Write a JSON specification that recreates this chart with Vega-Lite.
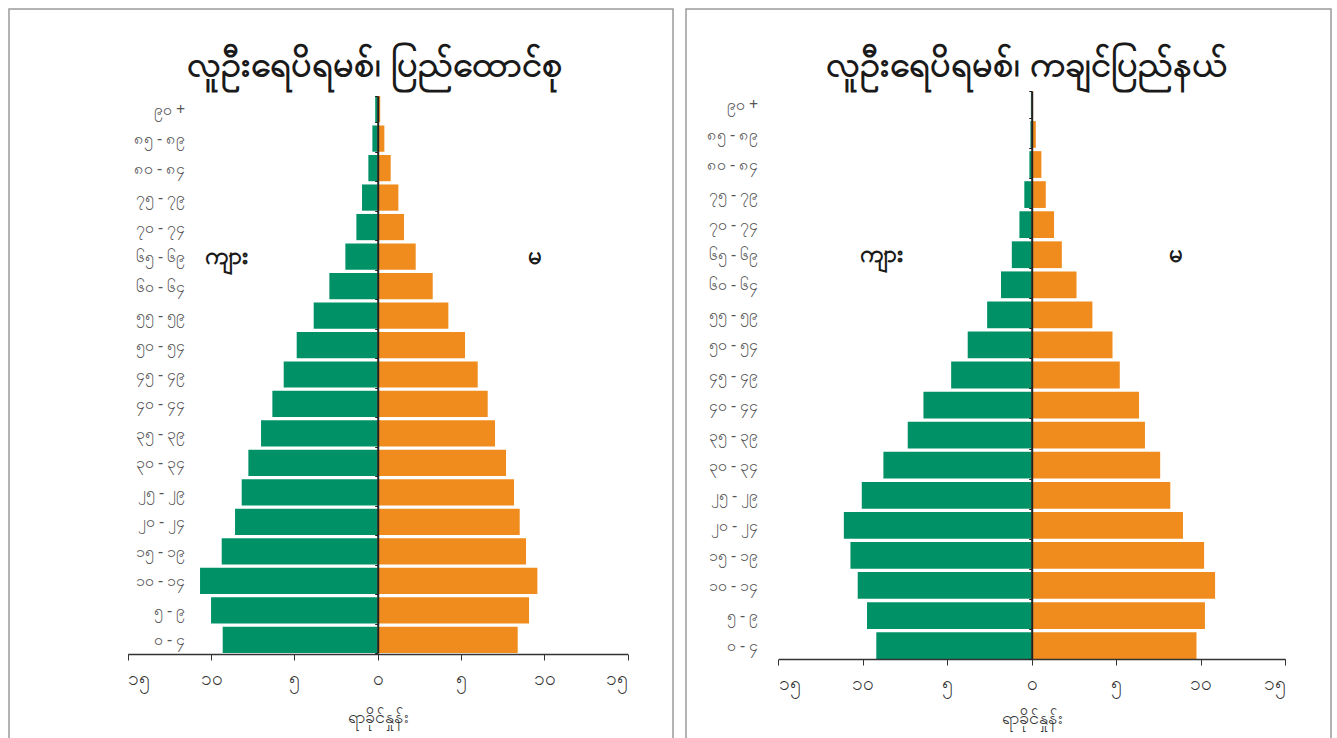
{
  "$schema": "https://vega.github.io/schema/vega-lite/v6.json",
  "padding": {"left": 8, "top": 0, "right": 0, "bottom": 0},
  "background": "white",
  "spacing": 13,
  "bounds": "flush",
  "config": {
    "view": {"stroke": "#9a9a9a", "strokeWidth": 1.5},
    "font": "Noto Sans",
    "axis": {"grid": false}
  },
  "datasets": {
    "union": [
      {"age": "၉၀ +", "sex": "ကျား", "pct": -0.15}, {"age": "၉၀ +", "sex": "မ", "pct": 0.15},
      {"age": "၈၅ - ၈၉", "sex": "ကျား", "pct": -0.32}, {"age": "၈၅ - ၈၉", "sex": "မ", "pct": 0.4},
      {"age": "၈၀ - ၈၄", "sex": "ကျား", "pct": -0.56}, {"age": "၈၀ - ၈၄", "sex": "မ", "pct": 0.78},
      {"age": "၇၅ - ၇၉", "sex": "ကျား", "pct": -0.94}, {"age": "၇၅ - ၇၉", "sex": "မ", "pct": 1.24},
      {"age": "၇၀ - ၇၄", "sex": "ကျား", "pct": -1.28}, {"age": "၇၀ - ၇၄", "sex": "မ", "pct": 1.58},
      {"age": "၆၅ - ၆၉", "sex": "ကျား", "pct": -1.94}, {"age": "၆၅ - ၆၉", "sex": "မ", "pct": 2.28},
      {"age": "၆၀ - ၆၄", "sex": "ကျား", "pct": -2.9}, {"age": "၆၀ - ၆၄", "sex": "မ", "pct": 3.3},
      {"age": "၅၅ - ၅၉", "sex": "ကျား", "pct": -3.84}, {"age": "၅၅ - ၅၉", "sex": "မ", "pct": 4.24},
      {"age": "၅၀ - ၅၄", "sex": "ကျား", "pct": -4.86}, {"age": "၅၀ - ၅၄", "sex": "မ", "pct": 5.24},
      {"age": "၄၅ - ၄၉", "sex": "ကျား", "pct": -5.64}, {"age": "၄၅ - ၄၉", "sex": "မ", "pct": 6.0},
      {"age": "၄၀ - ၄၄", "sex": "ကျား", "pct": -6.32}, {"age": "၄၀ - ၄၄", "sex": "မ", "pct": 6.6},
      {"age": "၃၅ - ၃၉", "sex": "ကျား", "pct": -7.0}, {"age": "၃၅ - ၃၉", "sex": "မ", "pct": 7.04},
      {"age": "၃၀ - ၃၄", "sex": "ကျား", "pct": -7.76}, {"age": "၃၀ - ၃၄", "sex": "မ", "pct": 7.7},
      {"age": "၂၅ - ၂၉", "sex": "ကျား", "pct": -8.16}, {"age": "၂၅ - ၂၉", "sex": "မ", "pct": 8.18},
      {"age": "၂၀ - ၂၄", "sex": "ကျား", "pct": -8.56}, {"age": "၂၀ - ၂၄", "sex": "မ", "pct": 8.52},
      {"age": "၁၅ - ၁၉", "sex": "ကျား", "pct": -9.36}, {"age": "၁၅ - ၁၉", "sex": "မ", "pct": 8.9},
      {"age": "၁၀ - ၁၄", "sex": "ကျား", "pct": -10.66}, {"age": "၁၀ - ၁၄", "sex": "မ", "pct": 9.58},
      {"age": "၅ - ၉", "sex": "ကျား", "pct": -10.0}, {"age": "၅ - ၉", "sex": "မ", "pct": 9.08},
      {"age": "၀ - ၄", "sex": "ကျား", "pct": -9.3}, {"age": "၀ - ၄", "sex": "မ", "pct": 8.4}
    ],
    "kachin": [
      {"age": "၉၀ +", "sex": "ကျား", "pct": -0.05}, {"age": "၉၀ +", "sex": "မ", "pct": 0.08},
      {"age": "၈၅ - ၈၉", "sex": "ကျား", "pct": -0.08}, {"age": "၈၅ - ၈၉", "sex": "မ", "pct": 0.24},
      {"age": "၈၀ - ၈၄", "sex": "ကျား", "pct": -0.14}, {"age": "၈၀ - ၈၄", "sex": "မ", "pct": 0.57},
      {"age": "၇၅ - ၇၉", "sex": "ကျား", "pct": -0.44}, {"age": "၇၅ - ၇၉", "sex": "မ", "pct": 0.83},
      {"age": "၇၀ - ၇၄", "sex": "ကျား", "pct": -0.73}, {"age": "၇၀ - ၇၄", "sex": "မ", "pct": 1.32},
      {"age": "၆၅ - ၆၉", "sex": "ကျား", "pct": -1.18}, {"age": "၆၅ - ၆၉", "sex": "မ", "pct": 1.78},
      {"age": "၆၀ - ၆၄", "sex": "ကျား", "pct": -1.82}, {"age": "၆၀ - ၆၄", "sex": "မ", "pct": 2.65},
      {"age": "၅၅ - ၅၉", "sex": "ကျား", "pct": -2.64}, {"age": "၅၅ - ၅၉", "sex": "မ", "pct": 3.59},
      {"age": "၅၀ - ၅၄", "sex": "ကျား", "pct": -3.79}, {"age": "၅၀ - ၅၄", "sex": "မ", "pct": 4.78},
      {"age": "၄၅ - ၄၉", "sex": "ကျား", "pct": -4.77}, {"age": "၄၅ - ၄၉", "sex": "မ", "pct": 5.21},
      {"age": "၄၀ - ၄၄", "sex": "ကျား", "pct": -6.41}, {"age": "၄၀ - ၄၄", "sex": "မ", "pct": 6.35},
      {"age": "၃၅ - ၃၉", "sex": "ကျား", "pct": -7.34}, {"age": "၃၅ - ၃၉", "sex": "မ", "pct": 6.7},
      {"age": "၃၀ - ၃၄", "sex": "ကျား", "pct": -8.78}, {"age": "၃၀ - ၃၄", "sex": "မ", "pct": 7.6},
      {"age": "၂၅ - ၂၉", "sex": "ကျား", "pct": -10.06}, {"age": "၂၅ - ၂၉", "sex": "မ", "pct": 8.2},
      {"age": "၂၀ - ၂၄", "sex": "ကျား", "pct": -11.12}, {"age": "၂၀ - ၂၄", "sex": "မ", "pct": 8.95},
      {"age": "၁၅ - ၁၉", "sex": "ကျား", "pct": -10.73}, {"age": "၁၅ - ၁၉", "sex": "မ", "pct": 10.2},
      {"age": "၁၀ - ၁၄", "sex": "ကျား", "pct": -10.3}, {"age": "၁၀ - ၁၄", "sex": "မ", "pct": 10.85},
      {"age": "၅ - ၉", "sex": "ကျား", "pct": -9.75}, {"age": "၅ - ၉", "sex": "မ", "pct": 10.25},
      {"age": "၀ - ၄", "sex": "ကျား", "pct": -9.2}, {"age": "၀ - ၄", "sex": "မ", "pct": 9.75}
    ]
  },
  "hconcat": [
    {
      "width": 664,
      "height": 732,
      "title": {"text": "လူဦးရေပိရမစ်၊ ပြည်ထောင်စု", "fontSize": 36, "fontWeight": "bold", "color": "#1a1a1a", "offset": -83, "dx": 34, "anchor": "middle"},
      "layer": [
        {
          "data": {"name": "union"},
          "mark": {"type": "bar"},
          "encoding": {
            "y": {
              "field": "age", "type": "nominal",
              "sort": ["၉၀ +", "၈၅ - ၈၉", "၈၀ - ၈၄", "၇၅ - ၇၉", "၇၀ - ၇၄", "၆၅ - ၆၉", "၆၀ - ၆၄", "၅၅ - ၅၉", "၅၀ - ၅၄", "၄၅ - ၄၉", "၄၀ - ၄၄", "၃၅ - ၃၉", "၃၀ - ၃၄", "၂၅ - ၂၉", "၂၀ - ၂၄", "၁၅ - ၁၉", "၁၀ - ၁၄", "၅ - ၉", "၀ - ၄"],
              "scale": {"range": [87, 644], "paddingInner": 0.11, "paddingOuter": 0},
              "axis": {"title": null, "orient": "left", "offset": -368.7, "domainColor": "#222", "domainWidth": 2, "tickBand": "extent", "tickSize": 3, "tickColor": "#222", "labelPadding": 190, "labelFontSize": 16, "labelColor": "#555", "zindex": 1}
            },
            "x": {
              "field": "pct", "type": "quantitative",
              "scale": {"domain": [-15, 15], "nice": false, "range": [118.7, 618.7]},
              "axis": {"title": "ရာခိုင်နှုန်း", "orient": "bottom", "offset": -87, "values": [-15, -10, -5, 0, 5, 10, 15], "labelExpr": "abs(datum.value) == 0 ? '၀' : abs(datum.value) == 5 ? '၅' : abs(datum.value) == 10 ? '၁၀' : '၁၅'", "domainColor": "#333", "domainWidth": 1.5, "tickColor": "#333", "tickSize": 6, "labelPadding": 9, "labelFontSize": 19, "labelColor": "#333", "titleFontSize": 18, "titleFontWeight": "normal", "titleColor": "#333", "titlePadding": 20, "zindex": 1}
            },
            "color": {"field": "sex", "type": "nominal", "scale": {"domain": ["ကျား", "မ"], "range": ["#009266", "#F08C1E"]}, "legend": null}
          }
        },
        {
          "data": {"values": [{}]},
          "mark": {"type": "text", "fontSize": 24, "fontWeight": "bold", "color": "#1a1a1a"},
          "encoding": {"x": {"datum": -9.1}, "y": {"datum": "၆၅ - ၆၉"}, "text": {"datum": "ကျား"}}
        },
        {
          "data": {"values": [{}]},
          "mark": {"type": "text", "fontSize": 24, "fontWeight": "bold", "color": "#1a1a1a"},
          "encoding": {"x": {"datum": 9.4}, "y": {"datum": "၆၅ - ၆၉"}, "text": {"datum": "မ"}}
        }
      ]
    },
    {
      "width": 645,
      "height": 732,
      "title": {"text": "လူဦးရေပိရမစ်၊ ကချင်ပြည်နယ်", "fontSize": 36, "fontWeight": "bold", "color": "#1a1a1a", "offset": -83, "dx": 18, "anchor": "middle"},
      "layer": [
        {
          "data": {"name": "kachin"},
          "mark": {"type": "bar"},
          "encoding": {
            "y": {
              "field": "age", "type": "nominal",
              "sort": ["၉၀ +", "၈၅ - ၈၉", "၈၀ - ၈၄", "၇၅ - ၇၉", "၇၀ - ၇၄", "၆၅ - ၆၉", "၆၀ - ၆၄", "၅၅ - ၅၉", "၅၀ - ၅၄", "၄၅ - ၄၉", "၄၀ - ၄၄", "၃၅ - ၃၉", "၃၀ - ၃၄", "၂၅ - ၂၉", "၂၀ - ၂၄", "၁၅ - ၁၉", "၁၀ - ၁၄", "၅ - ၉", "၀ - ၄"],
              "scale": {"range": [82, 650], "paddingInner": 0.11, "paddingOuter": 0},
              "axis": {"title": null, "orient": "left", "offset": -345.7, "domainColor": "#222", "domainWidth": 2, "tickBand": "extent", "tickSize": 3, "tickColor": "#222", "labelPadding": 271, "labelFontSize": 16, "labelColor": "#555", "zindex": 1}
            },
            "x": {
              "field": "pct", "type": "quantitative",
              "scale": {"domain": [-15, 15], "nice": false, "range": [92.3, 599.2]},
              "axis": {"title": "ရာခိုင်နှုန်း", "orient": "bottom", "offset": -82, "values": [-15, -10, -5, 0, 5, 10, 15], "labelExpr": "abs(datum.value) == 0 ? '၀' : abs(datum.value) == 5 ? '၅' : abs(datum.value) == 10 ? '၁၀' : '၁၅'", "domainColor": "#333", "domainWidth": 1.5, "tickColor": "#333", "tickSize": 6, "labelPadding": 9, "labelFontSize": 19, "labelColor": "#333", "titleFontSize": 18, "titleFontWeight": "normal", "titleColor": "#333", "titlePadding": 16, "zindex": 1}
            },
            "color": {"field": "sex", "type": "nominal", "scale": {"domain": ["ကျား", "မ"], "range": ["#009266", "#F08C1E"]}, "legend": null}
          }
        },
        {
          "data": {"values": [{}]},
          "mark": {"type": "text", "fontSize": 24, "fontWeight": "bold", "color": "#1a1a1a"},
          "encoding": {"x": {"datum": -8.9}, "y": {"datum": "၆၅ - ၆၉"}, "text": {"datum": "ကျား"}}
        },
        {
          "data": {"values": [{}]},
          "mark": {"type": "text", "fontSize": 24, "fontWeight": "bold", "color": "#1a1a1a"},
          "encoding": {"x": {"datum": 8.5}, "y": {"datum": "၆၅ - ၆၉"}, "text": {"datum": "မ"}}
        }
      ]
    }
  ],
  "resolve": {"scale": {"x": "independent", "y": "independent", "color": "shared"}}
}
